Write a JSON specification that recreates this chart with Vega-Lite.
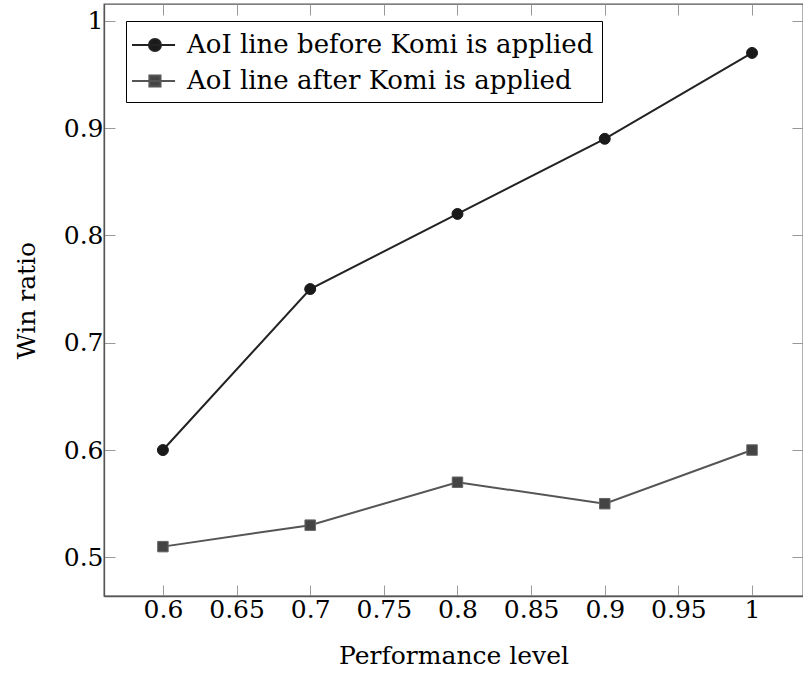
{
  "$schema": "https://vega.github.io/schema/vega-lite/v6.json",
  "width": 699,
  "height": 592,
  "autosize": {"type": "none"},
  "padding": {"left": 104, "top": 4, "right": 0, "bottom": 79},
  "background": "white",
  "config": {
    "view": {"stroke": "#555555", "strokeWidth": 1.3},
    "font": "DejaVu Serif",
    "style": {
      "guide-label": {"font": "DejaVu Serif", "fontSize": 25, "fill": "#000000"},
      "guide-title": {"font": "DejaVu Serif", "fontSize": 25, "fill": "#000000"}
    },
    "legend": {"labelFont": "DejaVu Serif", "labelFontSize": 26},
    "axis": {
      "grid": false,
      "labelFont": "DejaVu Serif",
      "titleFont": "DejaVu Serif",
      "labelFontSize": 25,
      "titleFontSize": 25,
      "labelFontWeight": "normal",
      "titleFontWeight": "normal",
      "labelColor": "#000000",
      "titleColor": "#000000",
      "tickColor": "#999999",
      "tickSize": -11,
      "tickWidth": 1,
      "domainColor": "#555555",
      "domainWidth": 1.3
    }
  },
  "data": {
    "values": [
      {"level": 0.6, "ratio": 0.6, "series": "AoI line before Komi is applied"},
      {"level": 0.7, "ratio": 0.75, "series": "AoI line before Komi is applied"},
      {"level": 0.8, "ratio": 0.82, "series": "AoI line before Komi is applied"},
      {"level": 0.9, "ratio": 0.89, "series": "AoI line before Komi is applied"},
      {"level": 1.0, "ratio": 0.97, "series": "AoI line before Komi is applied"},
      {"level": 0.6, "ratio": 0.51, "series": "AoI line after Komi is applied"},
      {"level": 0.7, "ratio": 0.53, "series": "AoI line after Komi is applied"},
      {"level": 0.8, "ratio": 0.57, "series": "AoI line after Komi is applied"},
      {"level": 0.9, "ratio": 0.55, "series": "AoI line after Komi is applied"},
      {"level": 1.0, "ratio": 0.6, "series": "AoI line after Komi is applied"}
    ]
  },
  "layer": [
    {
      "mark": {"type": "line", "strokeWidth": 2, "clip": true},
      "encoding": {
        "x": {
          "field": "level", "type": "quantitative",
          "scale": {"domain": [0.56, 1.0346], "nice": false, "zero": false},
          "axis": {
            "title": "Performance level",
            "values": [0.6, 0.65, 0.7, 0.75, 0.8, 0.85, 0.9, 0.95, 1.0],
            "format": "~g",
            "labelPadding": 12, "titlePadding": 21,
            "labelFlush": false
          }
        },
        "y": {
          "field": "ratio", "type": "quantitative",
          "scale": {"domain": [0.464, 1.0156], "nice": false, "zero": false},
          "axis": {
            "title": "Win ratio",
            "values": [0.5, 0.6, 0.7, 0.8, 0.9, 1.0],
            "format": "~g",
            "labelPadding": 12, "titlePadding": 24,
            "labelFlush": false
          }
        },
        "color": {
          "field": "series", "type": "nominal",
          "scale": {
            "domain": ["AoI line before Komi is applied", "AoI line after Komi is applied"],
            "range": ["#222222", "#555555"]
          },
          "legend": {
            "title": null,
            "orient": "none",
            "legendX": 22,
            "legendY": 17,
            "padding": 8,
            "strokeColor": "#000000",
            "fillColor": "#ffffff",
            "labelFont": "DejaVu Serif",
            "labelFontSize": 26,
            "labelColor": "#000000",
            "labelOffset": 21,
            "labelLimit": 700,
            "symbolSize": 900,
            "rowPadding": 7,
            "encode": {
              "labels": {
                "update": {
                  "text": {"signal": "datum.value == 'AoI line after Komi is applied' ? '\u2002' + datum.value : datum.value"},
                  "font": {"value": "DejaVu Serif"},
                  "fontSize": {"value": 26}
                }
              },
              "symbols": {
                "update": {
                  "shape": {"signal": "datum.value == 'AoI line before Komi is applied' ? 'M-1.2,0H1.67M0.73,0A0.4,0.4 0 1,1 -0.07,0A0.4,0.4 0 1,1 0.73,0Z' : 'M-1.2,0H1.67M-0.04,-0.37H0.7V0.37H-0.04Z'"},
                  "fill": {"signal": "datum.value == 'AoI line before Komi is applied' ? '#1a1a1a' : '#444444'"},
                  "stroke": {"signal": "datum.value == 'AoI line before Komi is applied' ? '#222222' : '#555555'"},
                  "strokeWidth": {"value": 2},
                  "size": {"value": 900},
                  "opacity": {"value": 1}
                }
              }
            }
          }
        }
      }
    },
    {
      "transform": [{"filter": "datum.series == 'AoI line before Komi is applied'"}],
      "mark": {"type": "point", "shape": "circle", "filled": true, "opacity": 1, "fill": "#1a1a1a", "stroke": "#1a1a1a", "strokeWidth": 1, "size": 120, "clip": true},
      "encoding": {
        "x": {
          "field": "level", "type": "quantitative",
          "axis": {"orient": "top", "labels": false, "title": null, "domain": false,
                   "values": [0.6, 0.65, 0.7, 0.75, 0.8, 0.85, 0.9, 0.95, 1.0]}
        },
        "y": {
          "field": "ratio", "type": "quantitative",
          "axis": {"orient": "right", "labels": false, "title": null, "domain": false,
                   "values": [0.5, 0.6, 0.7, 0.8, 0.9, 1.0]}
        }
      }
    },
    {
      "transform": [{"filter": "datum.series == 'AoI line after Komi is applied'"}],
      "mark": {"type": "point", "shape": "square", "filled": true, "opacity": 1, "fill": "#444444", "stroke": "#666666", "strokeWidth": 1, "size": 110, "clip": true},
      "encoding": {
        "x": {"field": "level", "type": "quantitative", "axis": null},
        "y": {"field": "ratio", "type": "quantitative", "axis": null}
      }
    }
  ],
  "resolve": {"axis": {"x": "independent", "y": "independent"}}
}
